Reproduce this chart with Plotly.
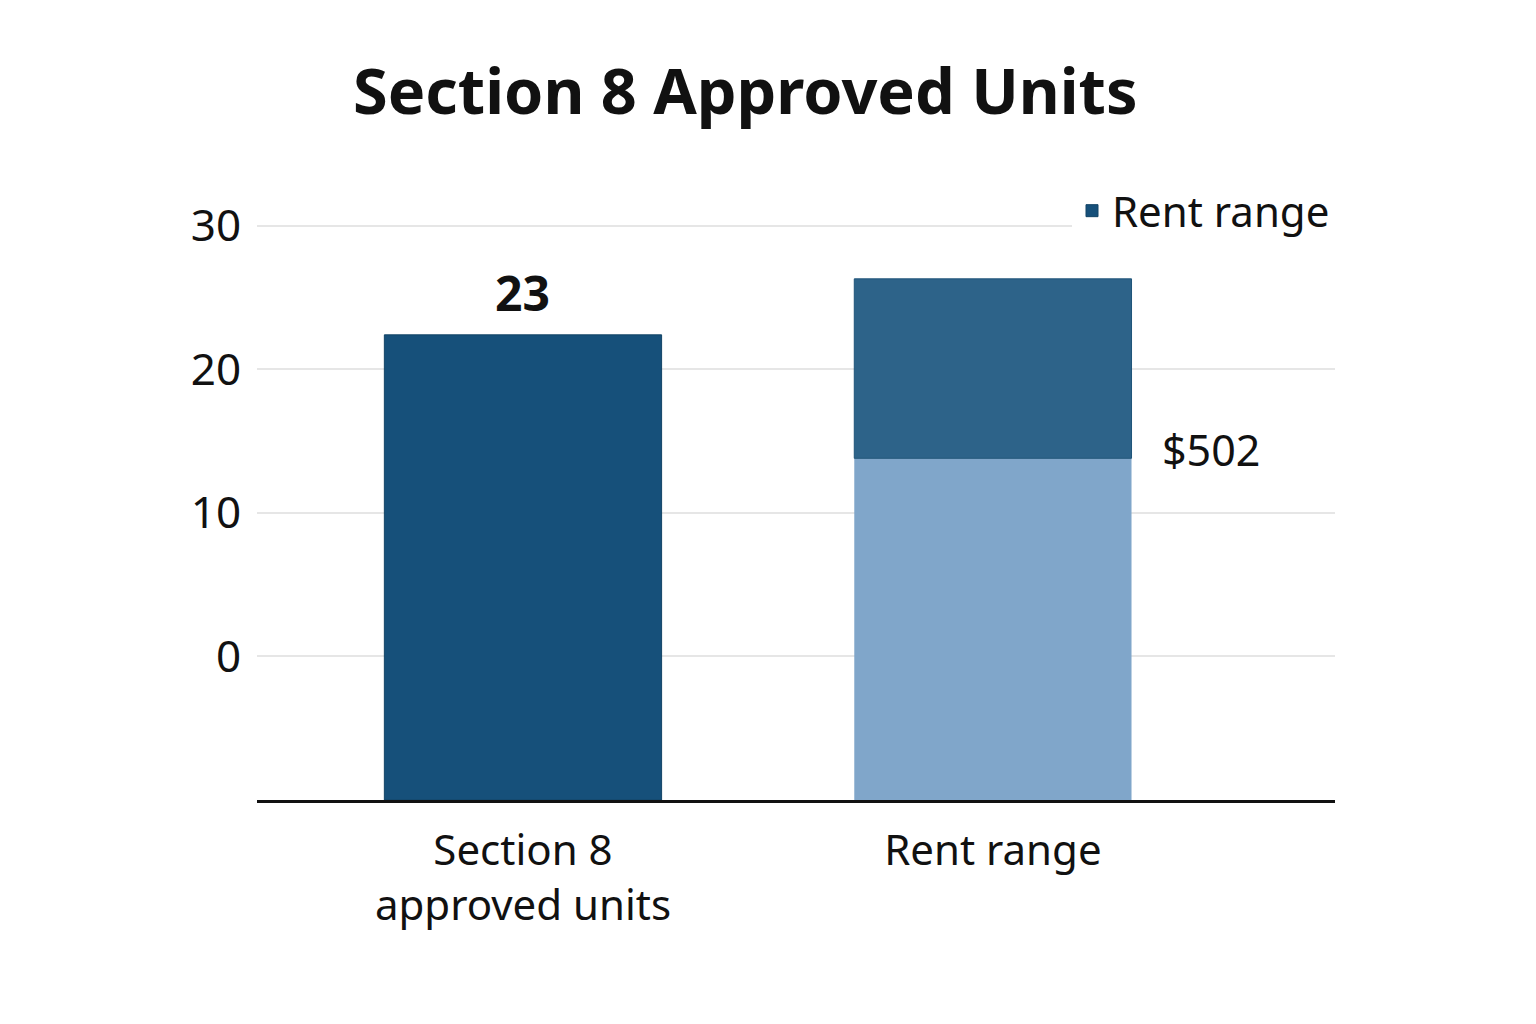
import plotly.graph_objects as go

# ---- data ----
categories = ["Section 8<br>approved units", "Rent range"]
section8_units = 22.4
section8_label = "23"
rent_low = 13.8
rent_high = 26.3
rent_label = "$502"
legend_name = "Rent range"
y_ticks = [0, 10, 20, 30]

Y_MIN = -10
Y_MAX = 32

C_S8 = "#16507a"
C_DARK = "#2d6389"
C_LIGHT = "#80a6ca"
FONT = "Noto Sans"

fig = go.Figure()

fig.add_trace(go.Bar(
    x=[categories[0]], y=[section8_units - Y_MIN], base=[Y_MIN],
    name=legend_name, marker=dict(color=C_S8, line=dict(color="#124466", width=1)),
    width=0.59, showlegend=True,
))
fig.add_trace(go.Bar(
    x=[categories[1]], y=[rent_low - Y_MIN], base=[Y_MIN],
    marker=dict(color=C_LIGHT, line=dict(width=0)),
    width=0.59, showlegend=False,
))
fig.add_trace(go.Bar(
    x=[categories[1]], y=[rent_high - rent_low], base=[rent_low],
    marker=dict(color=C_DARK, line=dict(color="#1f5479", width=1)),
    width=0.59, showlegend=False,
))

fig.add_annotation(x=0, y=section8_units, text="<b>" + section8_label + "</b>",
                   showarrow=False, yanchor="bottom", yshift=8,
                   font=dict(family=FONT, size=48, color="#111111"))
fig.add_annotation(x=1.355, y=rent_low, text=rent_label,
                   showarrow=False, xanchor="left", yanchor="middle", yshift=9,
                   font=dict(family=FONT, size=43, color="#111111"))

fig.update_layout(
    width=1536, height=1024,
    paper_bgcolor="white", plot_bgcolor="white",
    barmode="overlay",
    margin=dict(l=249, r=209, t=189, b=232),
    title=dict(text="<b>Section 8 Approved Units</b>", x=0.48, xanchor="center",
               y=0.918, yanchor="middle",
               font=dict(family=FONT, size=63, color="#111111")),
    font=dict(family=FONT, color="#111111"),
    legend=dict(x=1, xanchor="right", y=0.977, yanchor="middle",
                bgcolor="white", font=dict(family=FONT, size=42, color="#111111")),
)
fig.update_xaxes(type="category", range=[-0.566, 1.728],
                 showline=True, linecolor="#111111", linewidth=2.5,
                 showgrid=False, ticks="outside", ticklen=12, tickcolor="rgba(0,0,0,0)",
                 tickfont=dict(family=FONT, size=42, color="#111111"))
fig.update_yaxes(range=[Y_MIN, Y_MAX], tickvals=y_ticks,
                 showgrid=True, gridcolor="#e6e6e6", gridwidth=2,
                 zeroline=False, showline=False,
                 ticks="outside", ticklen=6, tickcolor="rgba(0,0,0,0)",
                 tickfont=dict(family=FONT, size=44, color="#111111"))

fig.write_html("out.html")
